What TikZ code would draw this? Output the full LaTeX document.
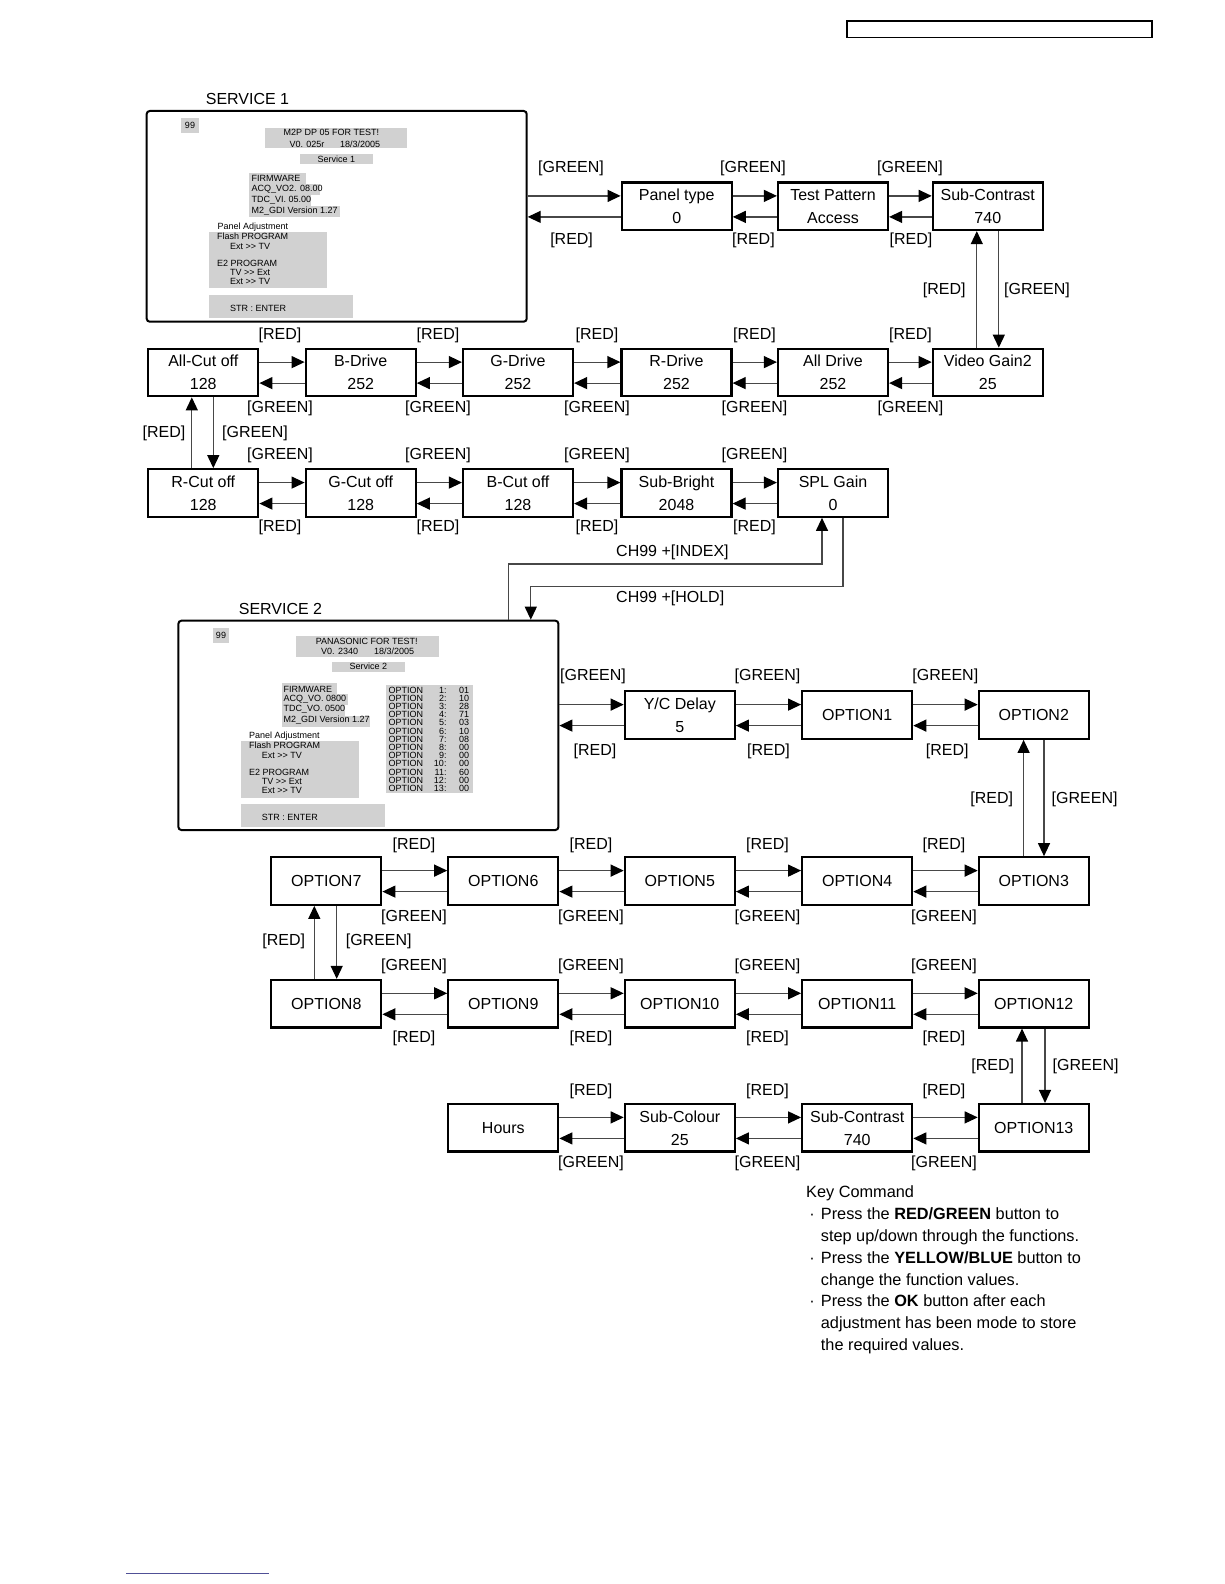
\documentclass[tikz,border=0pt]{standalone}
\usepackage{fontspec}
\setmainfont{Liberation Sans}
\usetikzlibrary{arrows.meta,calc}
\newcommand{\fsA}{\fontsize{16}{23}\selectfont}
\newcommand{\fsS}{\fontsize{9}{10}\selectfont}
\newcommand{\fsK}{\fontsize{16.3}{20}\selectfont}
\newcommand{\dblgt}{>{}>}
\newcommand{\kbul}{\llap{·\hspace{6pt}}}
\newcommand{\pairR}[2]{%
  \draw[arr] ([yshift=10.4pt]#1.east) -- ([yshift=10.4pt]#2.west);
  \draw[arr] ([yshift=-10.6pt]#2.west) -- ([yshift=-10.6pt]#1.east);}
\newcommand{\vpair}[4]{%
  \draw[arr] ([xshift=#3]#2.north) -- ([xshift=#3]#1.south);
  \draw[arr] ([xshift=#4]#1.south) -- ([xshift=#4]#2.north);}
\begin{document}
\begin{tikzpicture}[x=1pt,y=-1pt,
  fbox/.style={draw, line width=2.2pt, minimum width=110pt, minimum height=47.5pt, inner sep=0pt, align=center, font=\fsA},
  sbox/.style={draw, line width=2pt, rounded corners=3pt, inner sep=0pt},
  arr/.style={line width=1.2pt, draw=black!72, -{Triangle[length=13pt,width=12pt,color=black]}},
  lbl/.style={font=\fsA, inner sep=0pt},
  scr/.style={fill=black!18},
  st/.style={font=\fsS, inner sep=0pt, anchor=west},
  kt/.style={font=\fsK, inner sep=0pt, anchor=base west}]
\fill[white] (0,0) rectangle (1224,1584);
\useasboundingbox (0,0) rectangle (1224,1584);

% header box and footer line
\draw[line width=1.6pt] (846.7,21) rectangle (1151.7,37.7);
\draw[line width=0.8pt, draw={rgb,255:red,80;green,80;blue,150}] (126,1573) -- (269,1573);

% ================= SERVICE 1 screen =================
\node[lbl] (t1) at (247.5,99) {SERVICE 1};
\fill[scr] (180.7,117.7) rectangle (199.3,133.3);
\node[st, anchor=center] (a99) at (190,125.5) {99};
\fill[scr] (265,127.7) rectangle (407.3,147.7);
\node[st, anchor=center] (a1) at (331.3,132.7) {M2P DP 05 FOR TEST!};
\node[st] (a2) at (289.3,144) {V0. 025r};
\node[st] (a3) at (340,144) {18/3/2005};
\fill[scr] (300,154) rectangle (372.7,164);
\node[st, anchor=center] (a4) at (336.3,159) {Service 1};
\fill[scr] (249.3,172.7) rectangle (305.7,184);
\fill[scr] (249.3,184) rectangle (320,195);
\fill[scr] (249.3,195) rectangle (311,206);
\fill[scr] (249.3,206) rectangle (340,217);
\node[st] (a5) at (251.5,178.3) {FIRMWARE};
\node[st] (a6) at (251.5,189.3) {ACQ\_VO2. 08.00};
\node[st] (a7) at (251.5,200.7) {TDC\_VI. 05.00};
\node[st] (a8) at (251.5,211.3) {M2\_GDI Version 1.27};
\node[st] (a9) at (217.3,226.7) {Panel Adjustment};
\fill[scr] (209,231.7) rectangle (327.3,288.3);
\node[st] (a10) at (217,236) {Flash PROGRAM};
\node[st] (a11) at (230,246) {Ext \dblgt{} TV};
\node[st] (a12) at (217,263.3) {E2 PROGRAM};
\node[st] (a13) at (230,272.3) {TV \dblgt{} Ext};
\node[st] (a14) at (230,281) {Ext \dblgt{} TV};
\fill[scr] (209,295) rectangle (352.7,318.3);
\node[st] (a15) at (230,308.3) {STR : ENTER};
\node[sbox, minimum width=380pt, minimum height=210.7pt] (s1) at (336.7,216.35) {};

% ================= SERVICE 1 flow =================
\node[fbox] (pt) at (676.7,206.3) {Panel type\\0};
\node[fbox] (tp) at (833,206.3) {Test Pattern\\Access};
\node[fbox] (sc) at (987.8,206.3) {Sub-Contrast\\740};

\node[fbox] (ac) at (203.3,372.5) {All-Cut off\\128};
\node[fbox] (bd) at (360.7,372.5) {B-Drive\\252};
\node[fbox] (gd) at (518,372.5) {G-Drive\\252};
\node[fbox] (rd) at (676.5,372.5) {R-Drive\\252};
\node[fbox] (ad) at (833,372.5) {All Drive\\252};
\node[fbox] (vg) at (987.8,372.5) {Video Gain2\\25};

\node[fbox] (rc) at (203.3,493) {R-Cut off\\128};
\node[fbox] (gc) at (360.7,493) {G-Cut off\\128};
\node[fbox] (bc) at (518,493) {B-Cut off\\128};
\node[fbox] (sb) at (676.5,493) {Sub-Bright\\2048};
\node[fbox] (spl) at (833,493) {SPL Gain\\0};

\coordinate (pu) at ([yshift=10.4pt]pt.west);
\coordinate (pl) at ([yshift=-10.6pt]pt.west);
\draw[arr] (pu -| s1.east) -- (pu);
\draw[arr] (pl) -- (pl -| s1.east);
\pairR{pt}{tp}
\pairR{tp}{sc}
\vpair{sc}{vg}{-11pt}{11pt}
\pairR{ac}{bd}
\pairR{bd}{gd}
\pairR{gd}{rd}
\pairR{rd}{ad}
\pairR{ad}{vg}
\vpair{ac}{rc}{-11.5pt}{10pt}
\pairR{rc}{gc}
\pairR{gc}{bc}
\pairR{bc}{sb}
\pairR{sb}{spl}

% labels service 1 flow
\node[lbl] (g11) at (571,168) {[GREEN]};
\node[lbl] (g12) at (753,168) {[GREEN]};
\node[lbl] (g13) at (910,168) {[GREEN]};
\node[lbl] (r11) at (571.6,240) {[RED]};
\node[lbl] (r12) at (753.4,240) {[RED]};
\node[lbl] (r13) at (911,240) {[RED]};
\node[lbl] (rv1) at (944.2,290.8) {[RED]};
\node[lbl] (gv1) at (1037,290.8) {[GREEN]};
\foreach \x [count=\i] in {280,438,597,754.5,910.5} {
  \node[lbl] (r2\i) at (\x,335) {[RED]};
  \node[lbl] (g2\i) at (\x,408) {[GREEN]};
}
\node[lbl] (rv2) at (164,433) {[RED]};
\node[lbl] (gv2) at (255,433) {[GREEN]};
\foreach \x [count=\i] in {280,438,597,754.5} {
  \node[lbl] (g3\i) at (\x,455) {[GREEN]};
  \node[lbl] (r3\i) at (\x,527.5) {[RED]};
}

% ================= SERVICE 2 screen =================
\node[lbl] (t2) at (280.5,609) {SERVICE 2};
\fill[scr] (212.7,628.3) rectangle (229.3,642.7);
\node[st, anchor=center] (b99) at (221,635.5) {99};
\fill[scr] (296,636) rectangle (439.3,656.7);
\node[st, anchor=center] (b1) at (366.7,641) {PANASONIC FOR TEST!};
\node[st] (b2) at (321,651.7) {V0. 2340};
\node[st] (b3) at (374,651.7) {18/3/2005};
\fill[scr] (331.7,661.7) rectangle (405,671.7);
\node[st, anchor=center] (b4) at (368.3,666.7) {Service 2};
\fill[scr] (281.7,683.3) rectangle (336.7,694);
\fill[scr] (281.7,694) rectangle (348.3,705);
\fill[scr] (281.7,705) rectangle (345,715.5);
\fill[scr] (281.7,715.5) rectangle (370,727);
\node[st] (b5) at (283.3,689) {FIRMWARE};
\node[st] (b6) at (283.3,699) {ACQ\_VO. 0800};
\node[st] (b7) at (283.3,709.5) {TDC\_VO. 0500};
\node[st] (b8) at (283.3,720.5) {M2\_GDI Version 1.27};
\node[st] (b9) at (249,736) {Panel Adjustment};
\fill[scr] (241,741) rectangle (359,798.3);
\node[st] (b10) at (249,745.7) {Flash PROGRAM};
\node[st] (b11) at (261.7,755) {Ext \dblgt{} TV};
\node[st] (b12) at (249,772.7) {E2 PROGRAM};
\node[st] (b13) at (261.7,781.7) {TV \dblgt{} Ext};
\node[st] (b14) at (261.7,790.7) {Ext \dblgt{} TV};
\fill[scr] (241,804) rectangle (385,827.3);
\node[st] (b15) at (261.7,817.7) {STR : ENTER};
\fill[scr] (386,685) rectangle (472.7,792.7);
\foreach \v [count=\i] in {01,10,28,71,03,10,08,00,00,00,60,00,00} {
  \node[st] (on\i) at (388.3,{690+(\i-1)*8.19}) {OPTION};
  \node[st, anchor=east] (oi\i) at (446.7,{690+(\i-1)*8.19}) {\i:};
  \node[st, anchor=east] (ov\i) at (469.3,{690+(\i-1)*8.19}) {\v};
}
\node[sbox, minimum width=380pt, minimum height=209.3pt] (s2) at (368.4,725.35) {};

% CH99 connectors
\draw[arr] ([xshift=140pt]s2.north) -- ++(0,-55.7) -| ([xshift=-11pt]spl.south);
\draw[arr] ([xshift=10pt]spl.south) -- ++(0,68.3) -| ([xshift=162.4pt]s2.north);
\node[lbl, anchor=west] (chi) at (616,552.7) {CH99 +[INDEX]};
\node[lbl, anchor=west] (chh) at (616,598.3) {CH99 +[HOLD]};

% ================= SERVICE 2 flow =================
\node[fbox] (yc) at (679.8,715) {Y/C Delay\\5};
\node[fbox] (o1) at (857.2,715) {OPTION1};
\node[fbox] (o2) at (1033.8,715) {OPTION2};

\node[fbox] (o7) at (326.3,881) {OPTION7};
\node[fbox] (o6) at (503.3,881) {OPTION6};
\node[fbox] (o5) at (679.8,881) {OPTION5};
\node[fbox] (o4) at (857.2,881) {OPTION4};
\node[fbox] (o3) at (1033.8,881) {OPTION3};

\node[fbox] (o8) at (326.3,1003.7) {OPTION8};
\node[fbox] (o9) at (503.3,1003.7) {OPTION9};
\node[fbox] (o10) at (679.8,1003.7) {OPTION10};
\node[fbox] (o11) at (857.2,1003.7) {OPTION11};
\node[fbox] (o12) at (1033.8,1003.7) {OPTION12};

\node[fbox] (hr) at (503.3,1127.8) {Hours};
\node[fbox] (scol) at (679.8,1127.8) {Sub-Colour\\25};
\node[fbox] (scon) at (857.2,1127.8) {Sub-Contrast\\740};
\node[fbox] (o13) at (1033.8,1127.8) {OPTION13};

\coordinate (yu) at ([yshift=10.4pt]yc.west);
\coordinate (yl) at ([yshift=-10.6pt]yc.west);
\draw[arr] (yu -| s2.east) -- (yu);
\draw[arr] (yl) -- (yl -| s2.east);
\pairR{yc}{o1}
\pairR{o1}{o2}
\vpair{o2}{o3}{-10.2pt}{10.2pt}
\pairR{o7}{o6}
\pairR{o6}{o5}
\pairR{o5}{o4}
\pairR{o4}{o3}
\vpair{o7}{o8}{-12pt}{10.4pt}
\pairR{o8}{o9}
\pairR{o9}{o10}
\pairR{o10}{o11}
\pairR{o11}{o12}
\vpair{o12}{o13}{-11.8pt}{11.2pt}
\pairR{hr}{scol}
\pairR{scol}{scon}
\pairR{scon}{o13}

% labels service 2 flow
\node[lbl] (gA1) at (593,676.7) {[GREEN]};
\node[lbl] (gA2) at (767.5,676.7) {[GREEN]};
\node[lbl] (gA3) at (945.3,676.7) {[GREEN]};
\node[lbl] (rA1) at (595,751.7) {[RED]};
\node[lbl] (rA2) at (768.5,751.7) {[RED]};
\node[lbl] (rA3) at (947.3,751.7) {[RED]};
\node[lbl] (rvA) at (991.7,799) {[RED]};
\node[lbl] (gvA) at (1084.6,799) {[GREEN]};
\foreach \x [count=\i] in {414,591,767.5,944} {
  \node[lbl] (rB\i) at (\x,845) {[RED]};
  \node[lbl] (gB\i) at (\x,917.3) {[GREEN]};
  \node[lbl] (gC\i) at (\x,966) {[GREEN]};
  \node[lbl] (rC\i) at (\x,1038.5) {[RED]};
}
\node[lbl] (rvB) at (283.8,941) {[RED]};
\node[lbl] (gvB) at (378.7,941) {[GREEN]};
\node[lbl] (rvC) at (992.7,1066.5) {[RED]};
\node[lbl] (gvC) at (1085.6,1066.5) {[GREEN]};
\foreach \x [count=\i] in {591,767.5,944} {
  \node[lbl] (rD\i) at (\x,1091.7) {[RED]};
  \node[lbl] (gD\i) at (\x,1163) {[GREEN]};
}

% ================= Key command (baselines) =================
\node[kt] (k0) at (806,1197.5) {Key Command};
\node[kt] (k1) at (820.7,1219.8) {\kbul Press the \textbf{RED/GREEN} button to};
\node[kt] (k2) at (820.7,1241.3) {step up/down through the functions.};
\node[kt] (k3) at (820.7,1263.1) {\kbul Press the \textbf{YELLOW/BLUE} button to};
\node[kt] (k4) at (820.7,1285.1) {change the function values.};
\node[kt] (k5) at (820.7,1306.8) {\kbul Press the \textbf{OK} button after each};
\node[kt] (k6) at (820.7,1328.8) {adjustment has been mode to store};
\node[kt] (k7) at (820.7,1350.8) {the required values.};
\end{tikzpicture}
\end{document}
